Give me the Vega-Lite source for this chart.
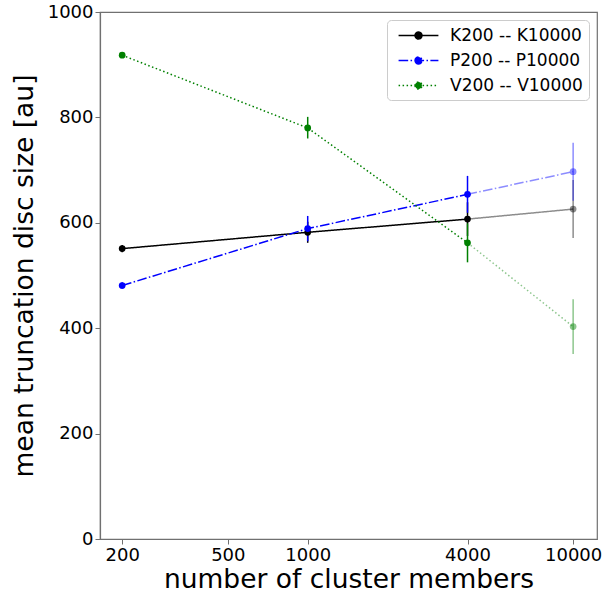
{
  "$schema": "https://vega.github.io/schema/vega-lite/v6.json",
  "width": 497,
  "height": 527,
  "autosize": {"type": "none"},
  "padding": {"left": 100, "top": 12, "right": 7, "bottom": 54},
  "background": "white",
  "config": {
    "font": "DejaVu Sans",
    "view": {"stroke": "#707070", "strokeWidth": 1.2},
    "axis": {
      "domainColor": "#707070",
      "domainWidth": 1.2,
      "tickColor": "#707070",
      "tickSize": 5,
      "grid": false,
      "labelFont": "DejaVu Sans",
      "labelFontSize": 18,
      "labelColor": "black",
      "titleFont": "DejaVu Sans",
      "titleFontSize": 26.5,
      "titleFontWeight": "normal",
      "titleColor": "black"
    }
  },
  "data": {
    "values": [
      {"series": "K200 -- K10000", "n": 200, "y": 551, "lo": 544, "hi": 558},
      {"series": "K200 -- K10000", "n": 1000, "y": 582, "lo": 562, "hi": 602},
      {"series": "K200 -- K10000", "n": 4000, "y": 607, "lo": 575, "hi": 639},
      {"series": "K200 -- K10000", "n": 10000, "y": 626, "lo": 571, "hi": 681},
      {"series": "P200 -- P10000", "n": 200, "y": 481, "lo": 475, "hi": 487},
      {"series": "P200 -- P10000", "n": 1000, "y": 589, "lo": 565, "hi": 613},
      {"series": "P200 -- P10000", "n": 4000, "y": 654, "lo": 619, "hi": 689},
      {"series": "P200 -- P10000", "n": 10000, "y": 697, "lo": 642, "hi": 752},
      {"series": "V200 -- V10000", "n": 200, "y": 918, "lo": 914, "hi": 922},
      {"series": "V200 -- V10000", "n": 1000, "y": 780, "lo": 760, "hi": 801},
      {"series": "V200 -- V10000", "n": 4000, "y": 562, "lo": 525, "hi": 599},
      {"series": "V200 -- V10000", "n": 10000, "y": 403, "lo": 351, "hi": 455}
    ]
  },
  "encoding": {
    "x": {
      "field": "n",
      "type": "quantitative",
      "scale": {"type": "log", "domain": [165, 12300], "nice": false},
      "axis": {"values": [200, 500, 1000, 4000, 10000], "format": "d", "title": "number of cluster members", "labelPadding": 2, "titlePadding": 2}
    },
    "color": {
      "field": "series",
      "type": "nominal",
      "scale": {"domain": ["K200 -- K10000", "P200 -- P10000", "V200 -- V10000"], "range": ["black", "#0000ff", "#008000"]},
      "legend": {
        "title": null,
        "orient": "top-right",
        "offset": 8,
        "padding": 6,
        "fillColor": "white",
        "strokeColor": "#cccccc",
        "cornerRadius": 4,
        "labelFontSize": 17,
        "labelFont": "DejaVu Sans",
        "labelColor": "black",
        "labelOffset": 22,
        "rowPadding": 7,
        "symbolType": "M-2.3,0H2.3M-0.4,0A0.4,0.4 0 1,0 0.4,0A0.4,0.4 0 1,0 -0.4,0Z",
        "symbolSize": 300,
        "symbolStrokeWidth": 1.5,
        "symbolOffset": 16,
        "encode": {
          "symbols": {"update": {"fill": {"scale": "color", "field": "value"}, "stroke": {"scale": "color", "field": "value"}, "opacity": {"value": 1}}}
        }
      }
    }
  },
  "layer": [
    {
      "transform": [{"filter": "datum.n <= 4000"}],
      "mark": {"type": "line", "strokeWidth": 1.5},
      "encoding": {
        "y": {
          "field": "y",
          "type": "quantitative",
          "scale": {"domain": [0, 1000], "nice": false},
          "axis": {"values": [0, 200, 400, 600, 800, 1000], "format": "d", "title": "mean truncation disc size [au]", "labelPadding": 2, "titlePadding": 9}
        },
        "strokeDash": {
          "field": "series",
          "type": "nominal",
          "scale": {"domain": ["K200 -- K10000", "P200 -- P10000", "V200 -- V10000"], "range": [[1, 0], [9.6, 2.4, 1.5, 2.4], [1.5, 2.5]]}
        }
      }
    },
    {
      "transform": [{"filter": "datum.n >= 4000"}],
      "mark": {"type": "line", "strokeWidth": 1.5, "opacity": 0.45},
      "encoding": {
        "y": {"field": "y", "type": "quantitative"},
        "strokeDash": {"field": "series", "type": "nominal"}
      }
    },
    {
      "mark": {"type": "rule", "strokeWidth": 1.5},
      "encoding": {
        "y": {"field": "lo", "type": "quantitative"},
        "y2": {"field": "hi"},
        "opacity": {"condition": {"test": "datum.n == 10000", "value": 0.45}, "value": 1}
      }
    },
    {
      "mark": {"type": "point", "filled": true, "size": 45, "shape": "circle"},
      "encoding": {
        "y": {"field": "y", "type": "quantitative"},
        "opacity": {"condition": {"test": "datum.n == 10000", "value": 0.45}, "value": 1}
      }
    }
  ]
}
